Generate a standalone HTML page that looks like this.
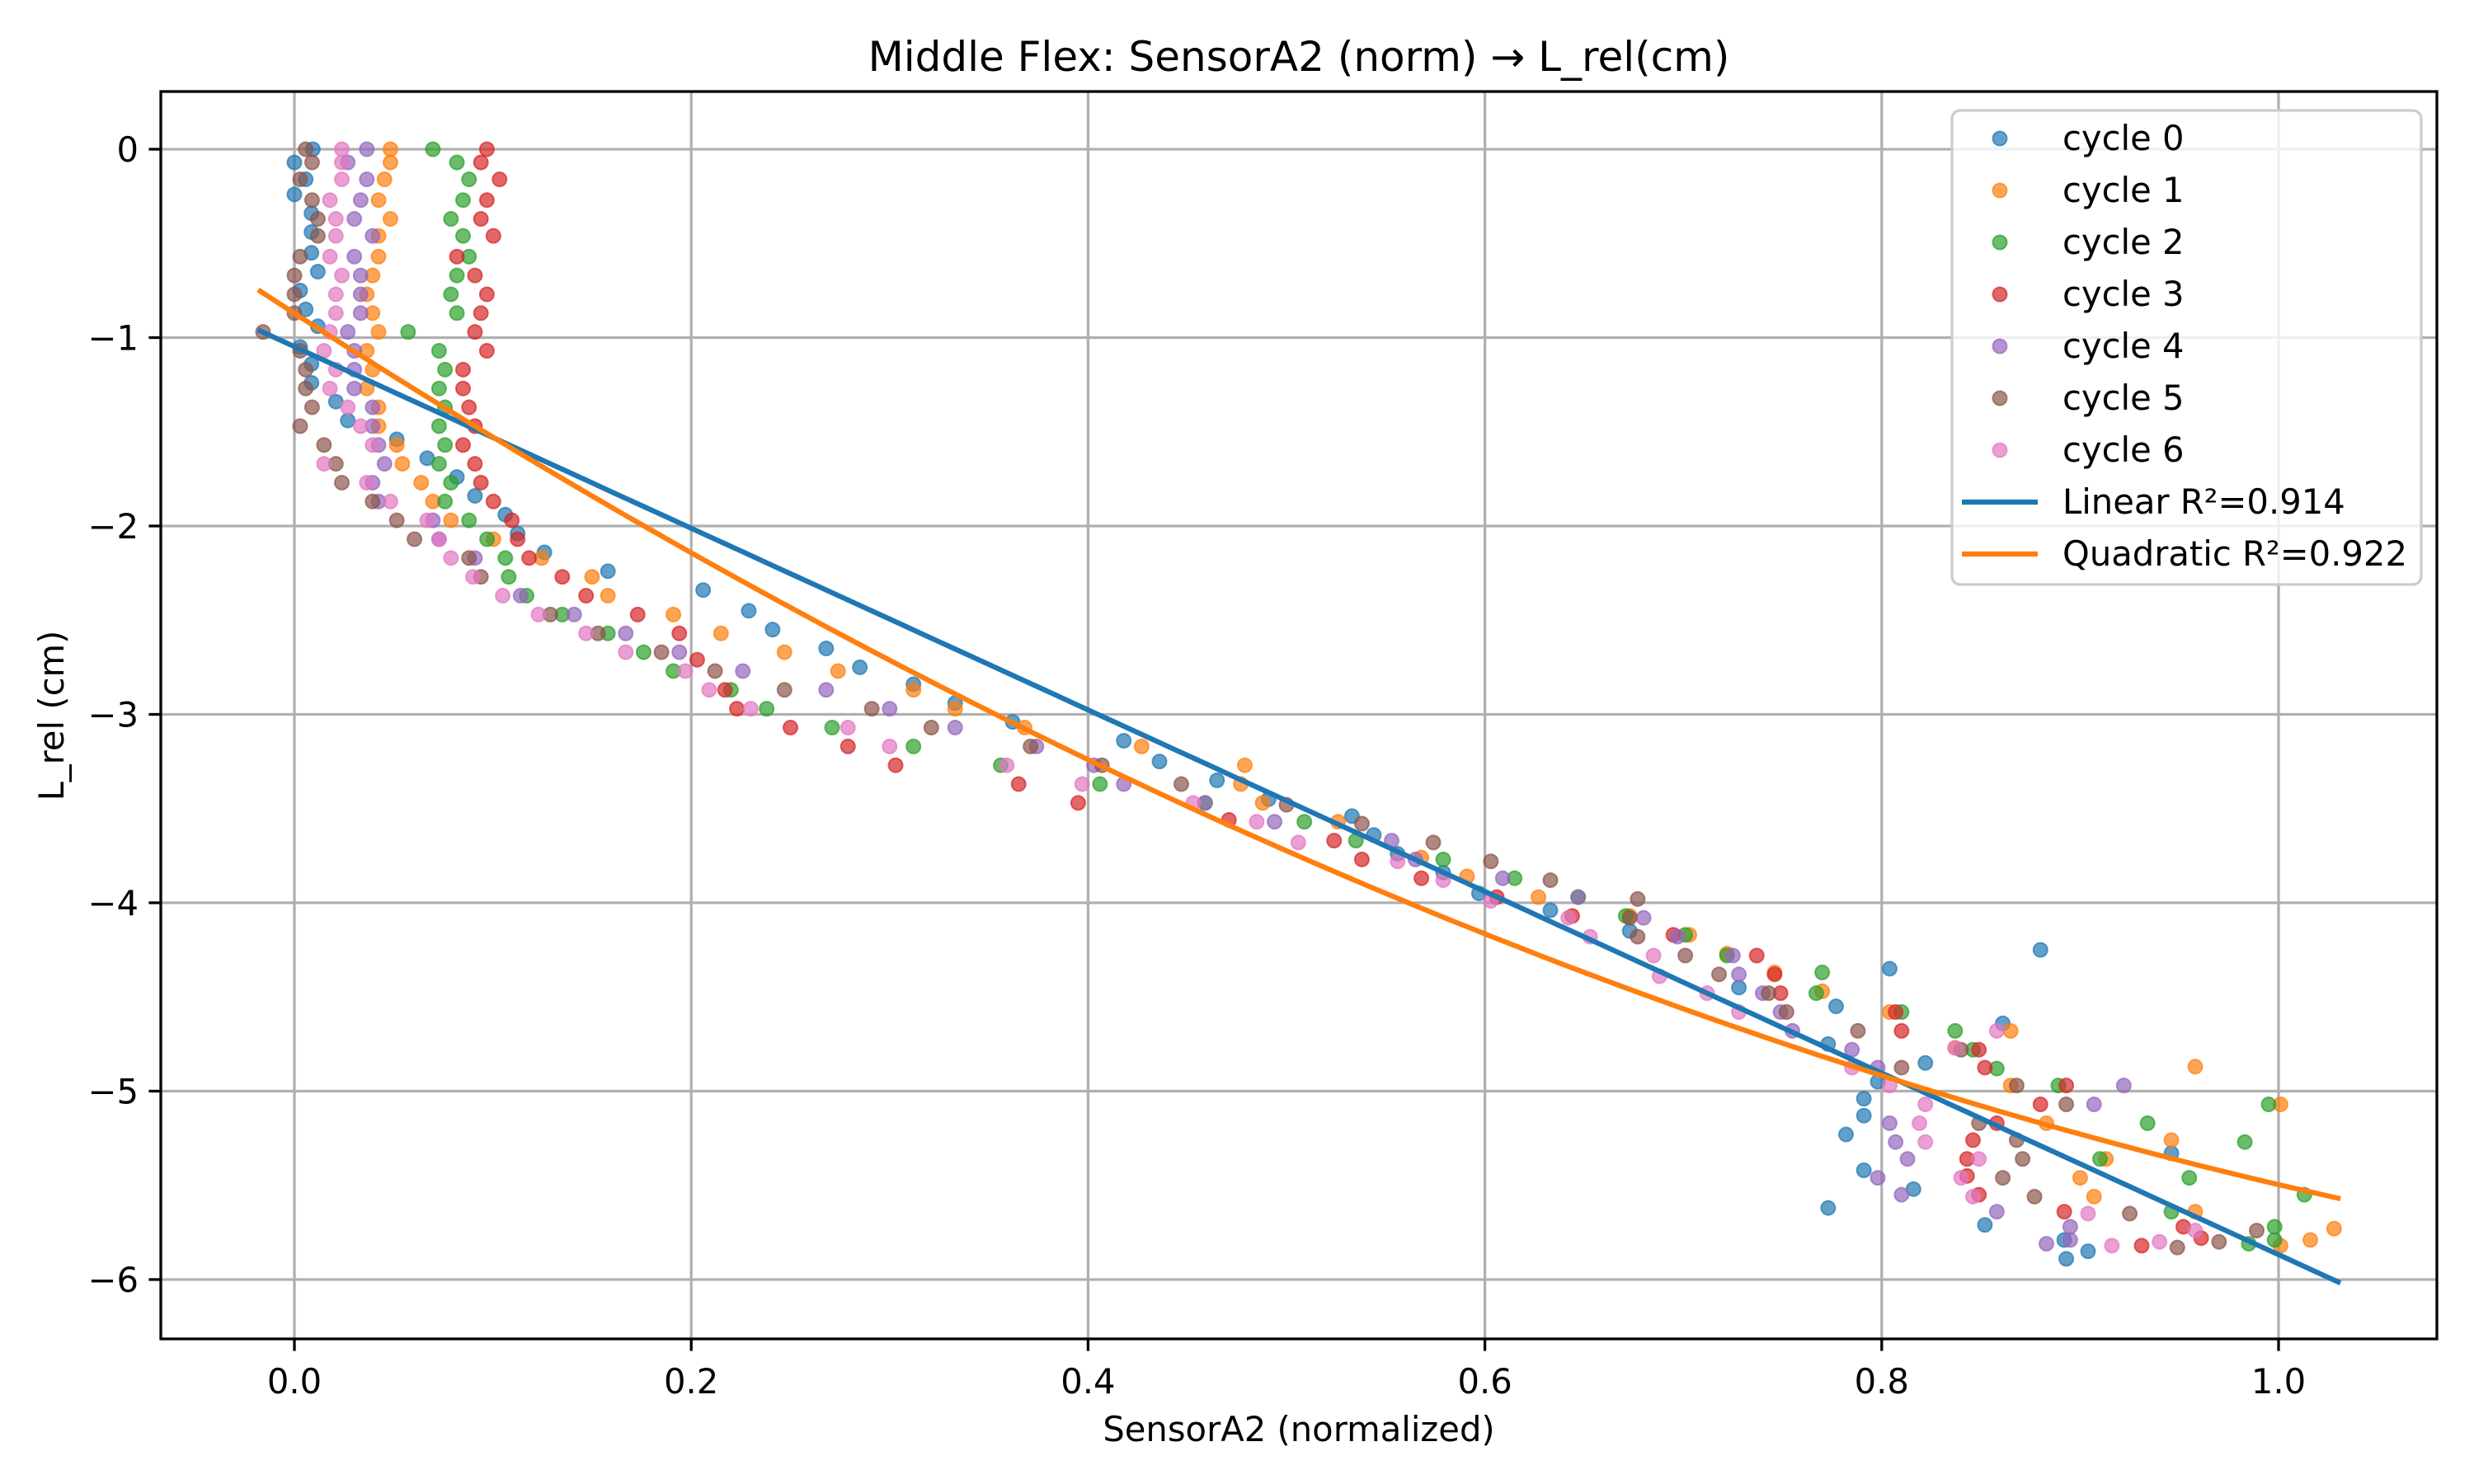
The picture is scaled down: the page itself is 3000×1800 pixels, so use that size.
<!DOCTYPE html>
<html><head><meta charset="utf-8"><style>
html,body{margin:0;padding:0;background:#fff;}
svg{display:block;}
text{font-family:"DejaVu Sans","Liberation Sans",sans-serif;fill:#000;}
</style></head><body>
<svg id="chart" xmlns="http://www.w3.org/2000/svg" width="3000" height="1800" viewBox="0 0 3000 1800">
<rect x="0" y="0" width="3000" height="1800" fill="#fff"/>
<g id="grid"></g>
<g id="marks"></g>
<g id="axes"></g>
<text x="1575" y="86" font-size="50" text-anchor="middle">Middle Flex: SensorA2 (norm) → L_rel(cm)</text>
<text x="1575" y="1748" font-size="41.7" text-anchor="middle">SensorA2 (normalized)</text>
<text x="0" y="0" font-size="41.7" text-anchor="middle" transform="translate(77,868) rotate(-90)">L_rel (cm)</text>
<g id="legend"></g>
</svg>
<script>
const c0x=[.0093,0,.0057,0,.0086,.0086,.0086,.0118,.0029,.0057,.0118,.0029,.0086,.0086,.0209,.0269,.0516,.0669,.0819,.0910,.1063,.1125,.126,.158,.206,.229,.241,.268,.285,.312,.333,.362,.418,.436,.465,.491,.533,.544,.556,.579,.597,.633,.673,.880,.804,.728,.777,.861,.773,.822,.798,.791,.791,.782,.946,.791,.816,.773,.852,.892,.893,.904];
const c0y=[0,-.07,-.16,-.24,-.34,-.44,-.55,-.65,-.75,-.85,-.94,-1.05,-1.14,-1.24,-1.34,-1.44,-1.54,-1.64,-1.74,-1.84,-1.94,-2.04,-2.14,-2.24,-2.34,-2.45,-2.55,-2.65,-2.75,-2.84,-2.94,-3.04,-3.14,-3.25,-3.35,-3.45,-3.54,-3.64,-3.74,-3.84,-3.95,-4.04,-4.15,-4.25,-4.35,-4.45,-4.55,-4.64,-4.75,-4.85,-4.95,-5.04,-5.13,-5.23,-5.33,-5.42,-5.52,-5.62,-5.71,-5.79,-5.89,-5.85];
const c1x=[.0484,.0484,.0454,.0424,.0484,.0424,.0424,.0394,.0365,.0394,.0424,.0365,.0394,.0365,.0424,.0424,.0516,.0544,.0639,.0698,.0789,.1003,.1246,.150,.158,.191,.215,.247,.274,.312,.333,.368,.427,.479,.477,.488,.526,.568,.591,.627,.673,.703,.722,.746,.770,.804,.865,.837,.958,.865,1.001,.883,.946,.913,.900,.907,.958,1.028,1.016,1.001];
const c1y=[0,-.07,-.16,-.27,-.37,-.46,-.57,-.67,-.77,-.87,-.97,-1.07,-1.17,-1.27,-1.37,-1.47,-1.57,-1.67,-1.77,-1.87,-1.97,-2.07,-2.17,-2.27,-2.37,-2.47,-2.57,-2.67,-2.77,-2.87,-2.97,-3.07,-3.17,-3.27,-3.37,-3.47,-3.57,-3.76,-3.86,-3.97,-4.07,-4.17,-4.27,-4.37,-4.47,-4.58,-4.68,-4.77,-4.87,-4.97,-5.07,-5.17,-5.26,-5.36,-5.46,-5.56,-5.64,-5.73,-5.79,-5.82];
const c2x=[.0698,.0819,.0880,.0850,.0789,.0850,.0880,.0819,.0789,.0819,.0573,.0729,.0759,.0729,.0759,.0729,.0759,.0729,.0789,.0759,.0880,.0971,.1063,.108,.117,.135,.158,.176,.191,.220,.238,.271,.312,.356,.406,.459,.509,.535,.579,.615,.647,.671,.701,.722,.770,.767,.810,.837,.846,.858,.889,.995,.934,.983,.910,.955,1.013,.946,.998,.998,.985];
const c2y=[0,-.07,-.16,-.27,-.37,-.46,-.57,-.67,-.77,-.87,-.97,-1.07,-1.17,-1.27,-1.37,-1.47,-1.57,-1.67,-1.77,-1.87,-1.97,-2.07,-2.17,-2.27,-2.37,-2.47,-2.57,-2.67,-2.77,-2.87,-2.97,-3.07,-3.17,-3.27,-3.37,-3.47,-3.57,-3.67,-3.77,-3.87,-3.97,-4.07,-4.17,-4.28,-4.37,-4.48,-4.58,-4.68,-4.78,-4.88,-4.97,-5.07,-5.17,-5.27,-5.36,-5.46,-5.55,-5.64,-5.72,-5.79,-5.81];
const c3x=[.0970,.0940,.1034,.0970,.0940,.1003,.0819,.0910,.0970,.0940,.0910,.0970,.0850,.0850,.0880,.0910,.0850,.0910,.0940,.1003,.1096,.1125,.1183,.135,.147,.173,.194,.203,.217,.223,.250,.279,.303,.365,.395,.471,.524,.538,.568,.606,.644,.695,.737,.746,.749,.807,.810,.849,.852,.893,.880,.858,.846,.843,.843,.849,.892,.952,.961,.931];
const c3y=[0,-.07,-.16,-.27,-.37,-.46,-.57,-.67,-.77,-.87,-.97,-1.07,-1.17,-1.27,-1.37,-1.47,-1.57,-1.67,-1.77,-1.87,-1.97,-2.07,-2.17,-2.27,-2.37,-2.47,-2.57,-2.71,-2.87,-2.97,-3.07,-3.17,-3.27,-3.37,-3.47,-3.56,-3.67,-3.77,-3.87,-3.97,-4.07,-4.17,-4.28,-4.38,-4.48,-4.58,-4.68,-4.78,-4.875,-4.97,-5.07,-5.17,-5.26,-5.36,-5.45,-5.55,-5.64,-5.72,-5.78,-5.82];
const c4x=[.0365,.0269,.0365,.0334,.0302,.0394,.0302,.0334,.0334,.0334,.0269,.0302,.0302,.0302,.0394,.0394,.0424,.0454,.0394,.0424,.0698,.0729,.0910,.114,.141,.167,.194,.226,.268,.300,.333,.374,.403,.418,.459,.494,.553,.565,.609,.647,.680,.697,.725,.728,.740,.749,.755,.785,.798,.922,.907,.804,.807,.813,.798,.810,.858,.895,.895,.883];
const c4y=[0,-.07,-.16,-.27,-.37,-.46,-.57,-.67,-.77,-.87,-.97,-1.07,-1.17,-1.27,-1.37,-1.47,-1.57,-1.67,-1.77,-1.87,-1.97,-2.07,-2.17,-2.37,-2.47,-2.57,-2.67,-2.77,-2.87,-2.97,-3.07,-3.17,-3.27,-3.37,-3.47,-3.57,-3.67,-3.77,-3.87,-3.97,-4.08,-4.18,-4.28,-4.38,-4.48,-4.58,-4.68,-4.78,-4.875,-4.97,-5.07,-5.17,-5.27,-5.36,-5.46,-5.55,-5.64,-5.72,-5.79,-5.81];
const c5x=[.0057,.0089,.0029,.0089,.0118,.0118,.0029,0,0,0,-.0158,.0029,.0057,.0057,.0089,.0029,.0149,.0209,.0239,.0394,.0516,.0605,.0880,.094,.129,.153,.185,.212,.247,.291,.321,.371,.407,.447,.500,.538,.574,.603,.633,.677,.673,.677,.701,.718,.743,.752,.788,.840,.810,.868,.893,.849,.868,.871,.861,.877,.925,.989,.970,.949];
const c5y=[0,-.07,-.16,-.27,-.37,-.46,-.57,-.67,-.77,-.87,-.97,-1.07,-1.17,-1.27,-1.37,-1.47,-1.57,-1.67,-1.77,-1.87,-1.97,-2.07,-2.17,-2.27,-2.47,-2.57,-2.67,-2.77,-2.87,-2.97,-3.07,-3.17,-3.27,-3.37,-3.48,-3.58,-3.68,-3.78,-3.88,-3.98,-4.08,-4.18,-4.28,-4.38,-4.48,-4.58,-4.68,-4.78,-4.875,-4.97,-5.07,-5.17,-5.26,-5.36,-5.46,-5.56,-5.65,-5.74,-5.80,-5.83];
const c6x=[.0239,.0239,.0239,.0179,.0209,.0209,.0179,.0239,.0209,.0209,.0179,.0149,.0209,.0179,.0269,.0334,.0394,.0149,.0365,.0484,.0669,.0729,.0789,.090,.105,.123,.147,.167,.197,.209,.230,.279,.300,.359,.397,.453,.485,.506,.556,.579,.603,.642,.653,.685,.688,.712,.728,.858,.837,.785,.804,.822,.819,.822,.849,.840,.846,.904,.958,.940,.916];
const c6y=[0,-.07,-.16,-.27,-.37,-.46,-.57,-.67,-.77,-.87,-.97,-1.07,-1.17,-1.27,-1.37,-1.47,-1.57,-1.67,-1.77,-1.87,-1.97,-2.07,-2.17,-2.27,-2.37,-2.47,-2.57,-2.67,-2.77,-2.87,-2.97,-3.07,-3.17,-3.27,-3.37,-3.47,-3.57,-3.68,-3.78,-3.88,-3.99,-4.08,-4.18,-4.28,-4.39,-4.48,-4.58,-4.68,-4.77,-4.875,-4.97,-5.07,-5.17,-5.27,-5.36,-5.46,-5.56,-5.65,-5.74,-5.80,-5.82];
const seriesNames=["cycle 0","cycle 1","cycle 2","cycle 3","cycle 4","cycle 5","cycle 6"];
const linCoef=[-1.048,-4.82];
const quadCoef=[-0.871,-6.788,2.163];
const fitRange=[-0.0172,1.03];
const fitLabels=["Linear R²=0.914","Quadratic R²=0.922"];
const xTicks=[0,0.2,0.4,0.6,0.8,1.0];
const xTickLabels=["0.0","0.2","0.4","0.6","0.8","1.0"];
const yTicks=[0,-1,-2,-3,-4,-5,-6];
const yTickLabels=["0","−1","−2","−3","−4","−5","−6"];

const NS="http://www.w3.org/2000/svg";
const PL=195,PR=2955,PT=111,PB=1624;
function xs(v){return 357+v*2406;}
function ys(v){return 181-v*228.5;}
function mk(tag,attrs,parent){const e=document.createElementNS(NS,tag);for(const k in attrs)e.setAttribute(k,attrs[k]);parent.appendChild(e);return e;}
const colors=["#1f77b4","#ff7f0e","#2ca02c","#d62728","#9467bd","#8c564b","#e377c2"];
const grid=document.getElementById('grid'),marks=document.getElementById('marks'),axes=document.getElementById('axes'),legend=document.getElementById('legend');

xTicks.forEach((t,i)=>{
  const g=mk('line',{x1:xs(t),x2:xs(t),y1:PT,y2:PB,stroke:'#b0b0b0','stroke-width':3.3},grid);
  
  
  const tk=mk('line',{x1:xs(t),x2:xs(t),y1:PB,y2:PB+14.6,stroke:'#000','stroke-width':3.3},axes);
  
  
  const tx=mk('text',{x:xs(t),y:PB+66,'font-size':41.7,'text-anchor':'middle'},axes);
  tx.textContent=xTickLabels[i];
  
  
});
yTicks.forEach((t,i)=>{
  const g=mk('line',{x1:PL,x2:PR,y1:ys(t),y2:ys(t),stroke:'#b0b0b0','stroke-width':3.3},grid);
  
  
  const tk=mk('line',{x1:PL-14.6,x2:PL,y1:ys(t),y2:ys(t),stroke:'#000','stroke-width':3.3},axes);
  
  
  const tx=mk('text',{x:PL-27,y:ys(t)+15,'font-size':41.7,'text-anchor':'end'},axes);
  tx.textContent=yTickLabels[i];
  
  
});
const frame=mk('rect',{x:PL,y:PT,width:PR-PL,height:PB-PT,fill:'none',stroke:'#000','stroke-width':3.3},axes);



const allX=[c0x,c1x,c2x,c3x,c4x,c5x,c6x],allY=[c0y,c1y,c2y,c3y,c4y,c5y,c6y];
allX.forEach((xa,ci)=>{
  const g=mk('g',{},marks);
  
  
  const ya=allY[ci];
  for(let i=0;i<xa.length&&i<ya.length;i++){
    const c=mk('circle',{cx:xs(xa[i]),cy:ys(ya[i]),r:8.5,fill:colors[ci],'fill-opacity':0.7,stroke:colors[ci],'stroke-opacity':0.7,'stroke-width':2},g);
    
    
  }
});
function fitPath(f){let d='';const n=120;for(let i=0;i<=n;i++){const v=fitRange[0]+(fitRange[1]-fitRange[0])*i/n;d+=(i?'L':'M')+xs(v).toFixed(1)+' '+ys(f(v)).toFixed(1);}return d;}
const lin=mk('path',{d:fitPath(v=>linCoef[0]+linCoef[1]*v),fill:'none',stroke:'#1f77b4','stroke-width':6.2,'stroke-linecap':'square'},marks);


const quad=mk('path',{d:fitPath(v=>quadCoef[0]+quadCoef[1]*v+quadCoef[2]*v*v),fill:'none',stroke:'#ff7f0e','stroke-width':6.2,'stroke-linecap':'square'},marks);



const box=mk('rect',{x:2367,y:134,width:569,height:575,rx:10,fill:'#fff','fill-opacity':0.8,stroke:'#cccccc','stroke-width':3.3},legend);


const rowY=[168,231,294,357,420,483,546,609,672];
seriesNames.forEach((n,i)=>{
  const c=mk('circle',{cx:2425,cy:rowY[i],r:8.5,fill:colors[i],'fill-opacity':0.7,stroke:colors[i],'stroke-opacity':0.7,'stroke-width':2},legend);
  
  
  const t=mk('text',{x:2501,y:rowY[i]+14,'font-size':41.7},legend);
  t.textContent=n;
  
  
});
fitLabels.forEach((n,i)=>{
  const y=rowY[7+i];
  const l=mk('line',{x1:2379,x2:2471,y1:y,y2:y,stroke:i?'#ff7f0e':'#1f77b4','stroke-width':6.2},legend);
  
  
  const t=mk('text',{x:2501,y:y+14,'font-size':41.7},legend);
  t.textContent=n;
  
  
});
</script>
</body></html>
